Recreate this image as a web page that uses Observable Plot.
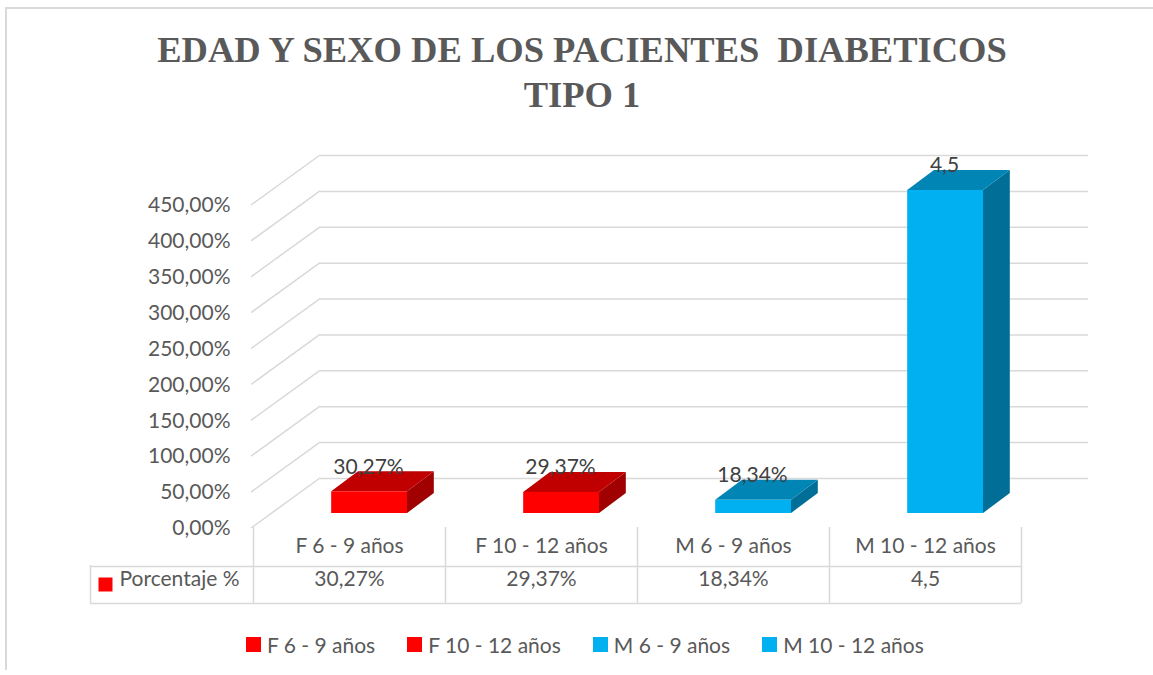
<!DOCTYPE html>
<html>
<head>
<meta charset="utf-8">
<script src="https://cdn.jsdelivr.net/npm/d3@7"></script>
<script src="https://cdn.jsdelivr.net/npm/@observablehq/plot@0.6"></script>
<style>
  html, body { margin: 0; padding: 0; background: #fff; }
  #wrap { position: relative; width: 1153px; height: 675px; overflow: hidden; background: #fff; }
  #frame { position: absolute; left: 5px; top: 7px; width: 1160px; height: 661px;
           border-top: 2px solid #d9d9d9; border-left: 2px solid #d9d9d9; }
  #chart { position: absolute; left: 0; top: 0; }
  #title { position: absolute; left: 0; top: 27px; width: 1164px; text-align: center;
           font-family: "Liberation Serif", "Times New Roman", serif; font-weight: bold;
           font-size: 36.5px; line-height: 45px; color: #595959; white-space: pre; }
  #legend { position: absolute; left: 246px; top: 632px; }
  #legend div { display: flex !important; align-items: center; min-height: 0 !important; margin: 0 !important;
                font-family: Lato, sans-serif !important; font-size: 21px !important; color: #595959 !important; }
  #legend span { display: inline-flex !important; align-items: center; margin-right: 32px !important; }
  #legend svg { margin-right: 6px !important; }
</style>
</head>
<body>
<div id="wrap">
  <div id="frame"></div>
  <div id="chart"></div>
  <div id="title"></div>
  <div id="legend"></div>
</div>
<script>
// ---- data ----
const titleLines = ["EDAD Y SEXO DE LOS PACIENTES  DIABETICOS", "TIPO 1"];
const categories = ["F 6 - 9 años", "F 10 - 12 años", "M 6 - 9 años", "M 10 - 12 años"];
const values = [0.3027, 0.2937, 0.1834, 4.5];
const valueLabels = ["30,27%", "29,37%", "18,34%", "4,5"];
const seriesName = "Porcentaje %";
const yTicks = [0, 0.5, 1, 1.5, 2, 2.5, 3, 3.5, 4, 4.5];
const frontColors = ["#FF0000", "#FF0000", "#00B0F0", "#00B0F0"];
const topColors = ["#C00000", "#C00000", "#0085B5", "#0085B5"];
const sideColors = ["#A00000", "#A00000", "#006E96", "#006E96"];

const data = categories.map((c, i) => ({
  cat: c, value: values[i], label: valueLabels[i],
  front: frontColors[i], top: topColors[i], side: sideColors[i]
}));

// ---- styling constants ----
const GRID = "#d9d9d9";
const DX = 67, DY = -50;      // depth of the 3D floor (px)
const Z0 = 0.3, Z1 = 0.7;     // bar depth range
const BAR = 0.395;            // bar width as fraction of band
const tickFormat = d => (d * 100).toFixed(2).replace(".", ",") + "%";

function diagonals(index, scales, values, dims) {
  const g = d3.create("svg:g").attr("stroke", GRID).attr("stroke-width", 1.5);
  for (const i of index) {
    const yy = values.y ? values.y[i] : scales.y(yTicks[i]);
    g.append("line")
      .attr("x1", dims.marginLeft - 2).attr("y1", yy)
      .attr("x2", dims.marginLeft + DX).attr("y2", yy + DY);
  }
  return g.node();
}

function bars3d(index, scales) {
  const g = d3.create("svg:g");
  const x = scales.x, y = scales.y;
  const bw = x.bandwidth();
  const w = bw * BAR;
  const ox = DX * (Z1 - Z0), oy = DY * (Z1 - Z0);
  for (const i of index) {
    const d = data[i];
    const xl = x(d.cat) + (bw - w) / 2 + DX * Z0;
    const xr = xl + w;
    const yb = y(0) + DY * Z0, yt = y(d.value) + DY * Z0;
    g.append("path").attr("fill", d.side)
      .attr("d", `M${xr},${yt}L${xr + ox},${yt + oy}L${xr + ox},${yb + oy}L${xr},${yb}Z`);
    g.append("path").attr("fill", d.top)
      .attr("d", `M${xl},${yt}L${xr},${yt}L${xr + ox},${yt + oy}L${xl + ox},${yt + oy}Z`);
    g.append("rect").attr("fill", d.front)
      .attr("x", xl).attr("y", yt).attr("width", w).attr("height", yb - yt);
  }
  return g.node();
}

const chart = Plot.plot({
  width: 1153, height: 675,
  marginLeft: 253, marginRight: 132, marginTop: 205, marginBottom: 147,
  x: {type: "band", domain: categories, padding: 0, axis: null},
  y: {domain: [0, 4.5], axis: null},
  style: {fontFamily: "Lato, sans-serif", fontSize: "21px", color: "#595959", background: "transparent", overflow: "visible"},
  marks: [
    // back wall gridlines
    Plot.ruleY(yTicks, {stroke: GRID, strokeWidth: 1.5, dx: DX, dy: DY}),
    // side wall diagonals
    Plot.ruleY(yTicks, {render: diagonals}),
    // data table grid
    Plot.ruleX(categories, {stroke: GRID, strokeWidth: 1.5, dx: -96, insetTop: 322, insetBottom: -75}),
    Plot.ruleX([categories[categories.length - 1]], {stroke: GRID, strokeWidth: 1.5, dx: 96, insetTop: 322, insetBottom: -75}),
    Plot.ruleX([categories[0]], {stroke: GRID, strokeWidth: 1.5, dx: -96 - 163, insetTop: 360, insetBottom: -75}),
    Plot.ruleY([0], {stroke: GRID, strokeWidth: 1.5, dy: 38, insetLeft: -163}),
    Plot.ruleY([0], {stroke: GRID, strokeWidth: 1.5, dy: 75, insetLeft: -163}),
    // y axis
    Plot.axisY({ticks: yTicks, tickFormat, tickSize: 0, tickPadding: 23, fontSize: 21, fill: "#595959", label: null}),
    // 3D bars
    Plot.barY(data, {x: "cat", y: "value", render: bars3d}),
    // data labels
    Plot.text(data, {x: "cat", y: "value", text: "label", dx: 19, dy: -40, fill: "#404040", fontSize: 21}),
    // table: categories row
    Plot.text(categories, {x: d => d, frameAnchor: "bottom", dy: 24, fill: "#595959", fontSize: 21}),
    // table: values row
    Plot.text(data, {x: "cat", text: "label", frameAnchor: "bottom", dy: 57, fill: "#595959", fontSize: 21}),
    Plot.text([seriesName], {frameAnchor: "bottom-left", textAnchor: "start", dx: -134, dy: 57, fill: "#595959", fontSize: 21}),
    Plot.dot([seriesName], {x: () => categories[0], y: () => 0, symbol: "square", r: 7.9, fill: frontColors[0], dx: -244, dy: 56})
  ]
});
document.getElementById("chart").appendChild(chart);

document.getElementById("title").textContent = titleLines.join("\n");

const legend = Plot.legend({
  color: {type: "ordinal", domain: categories, range: frontColors},
  swatchSize: 15
});
document.getElementById("legend").appendChild(legend);
</script>
</body>
</html>
